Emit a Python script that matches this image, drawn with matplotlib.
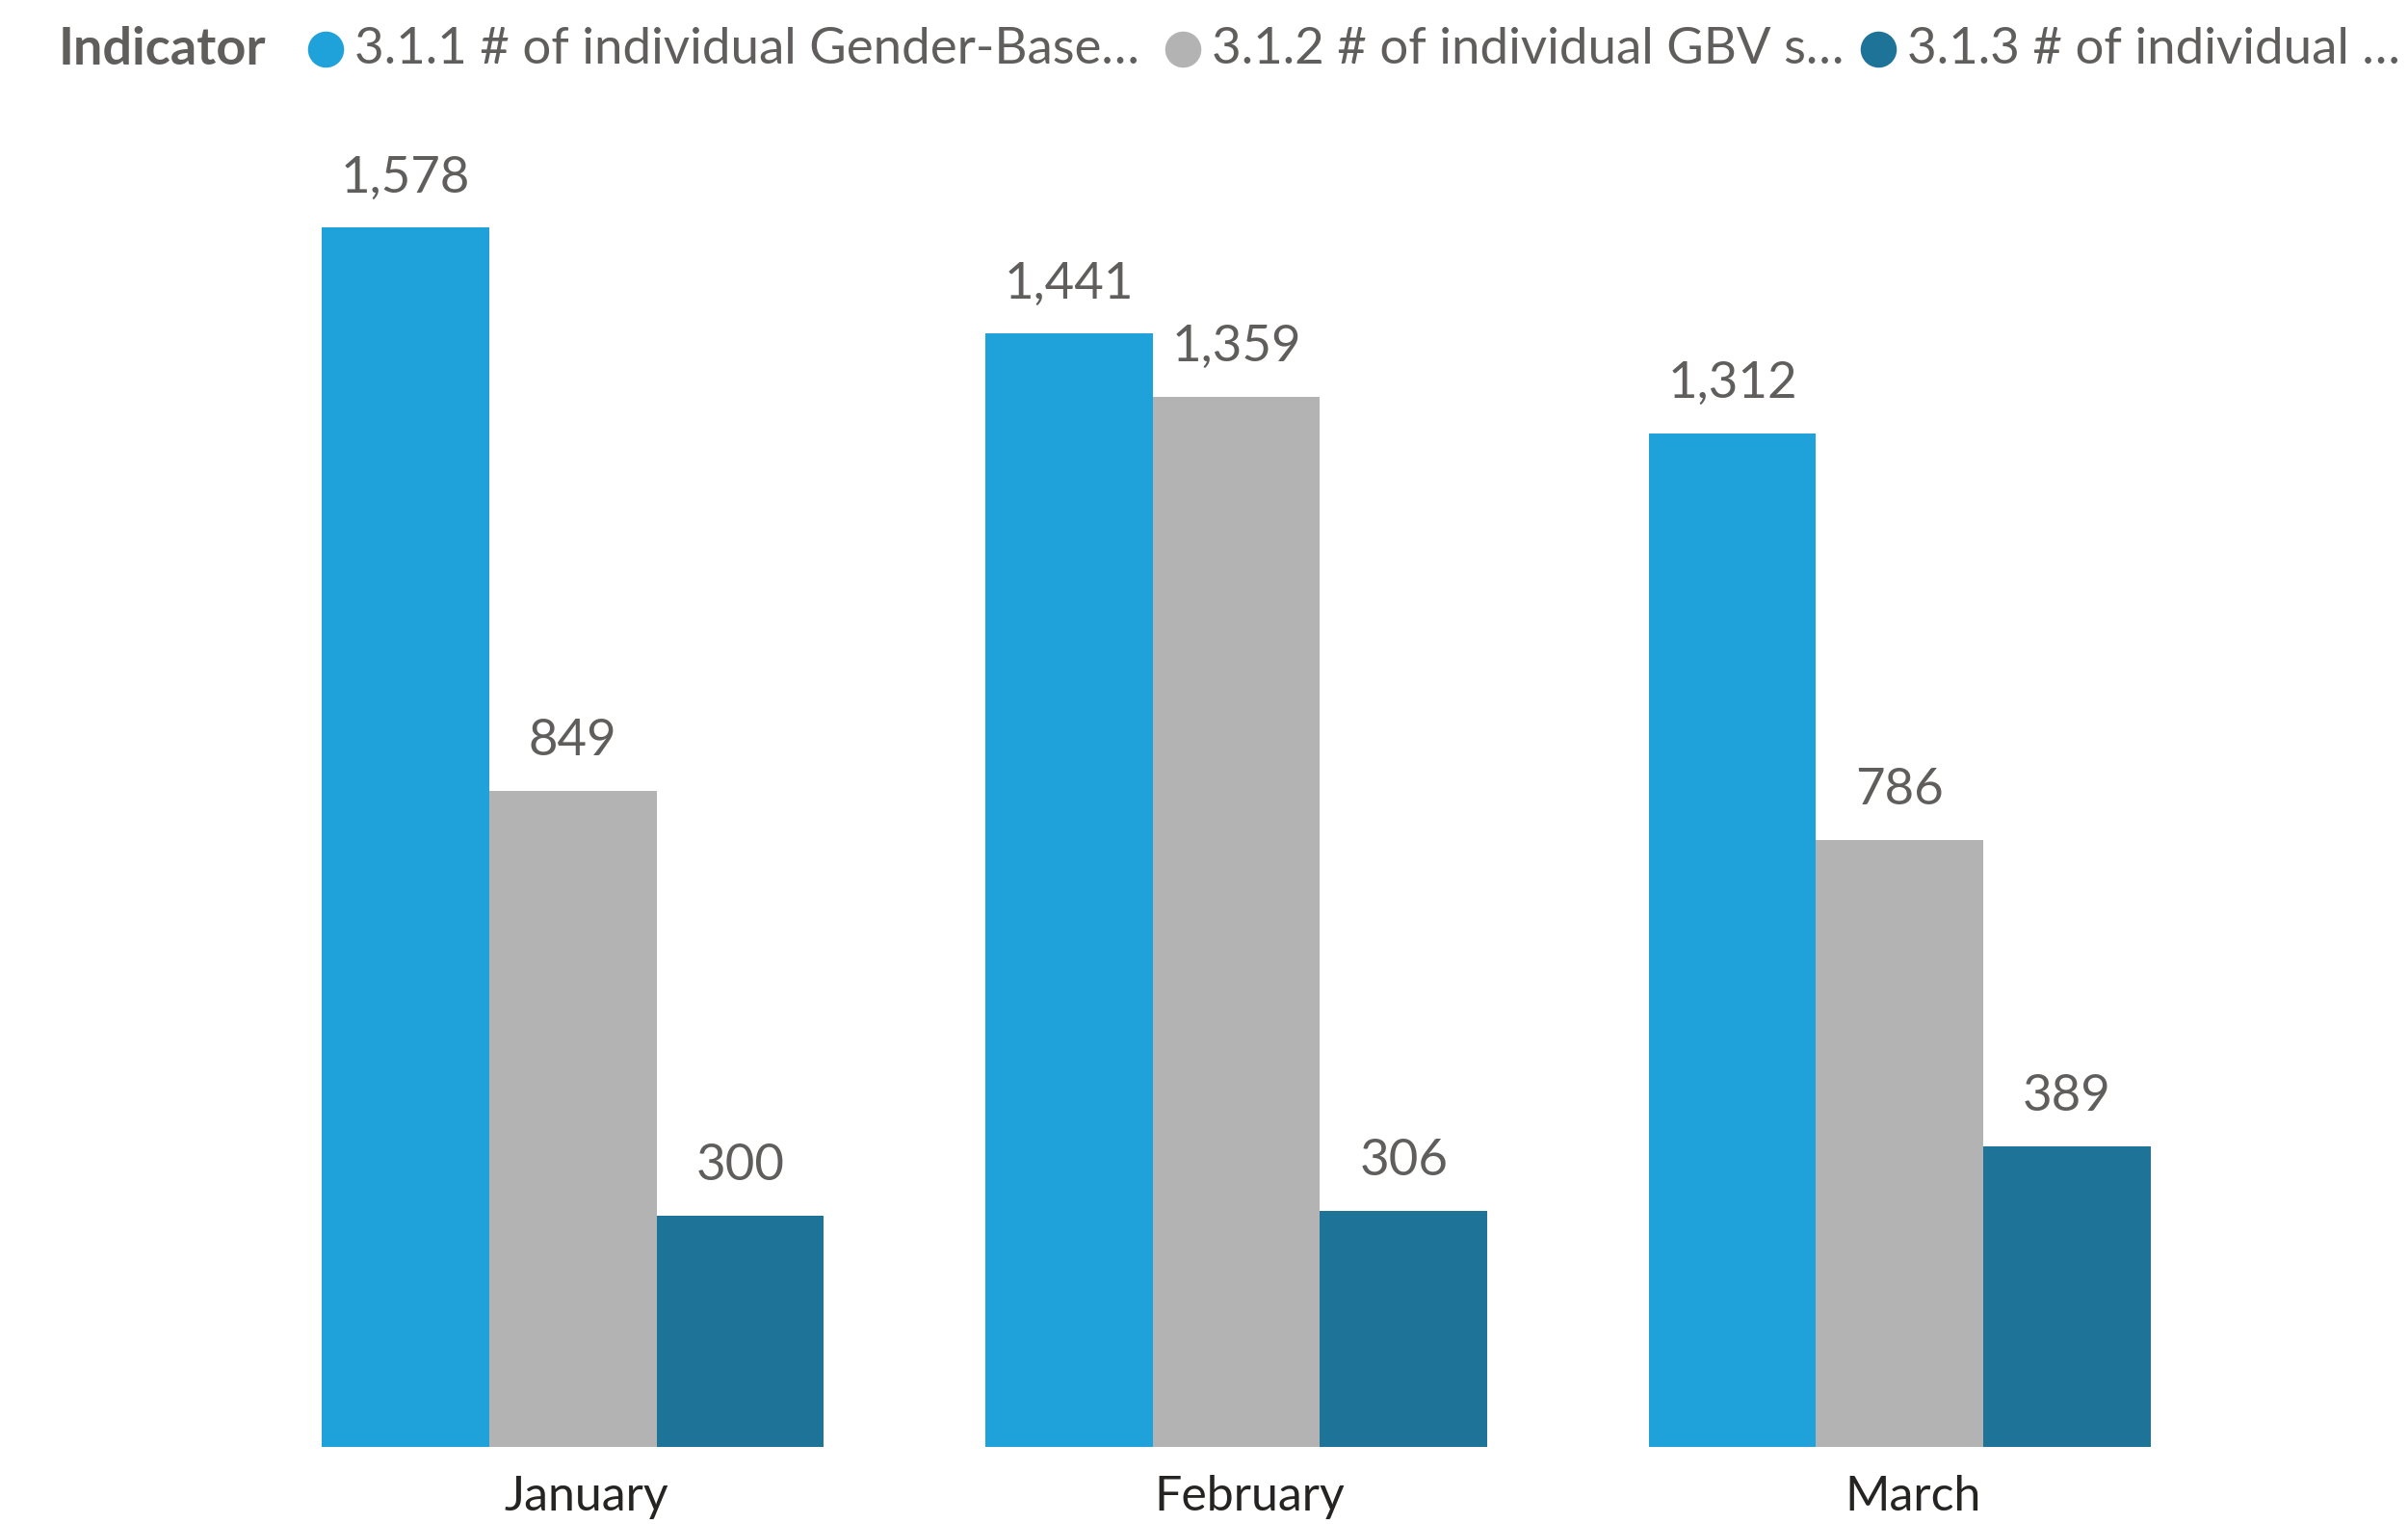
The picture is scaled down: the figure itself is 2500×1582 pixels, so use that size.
import matplotlib
matplotlib.use("Agg")
import matplotlib.pyplot as plt
from matplotlib.lines import Line2D
from matplotlib.transforms import ScaledTranslation
import numpy as np

months = ["January", "February", "March"]
series_names = ["3.1.1 # of individual Gender-Base…",
                "3.1.2 # of individual GBV s…",
                "3.1.3 # of individual …"]
s311 = [1578, 1441, 1312]
s312 = [849, 1359, 786]
s313 = [300, 306, 389]
values = [s311, s312, s313]
colors = ["#1FA1DA", "#B3B3B3", "#1E7399"]

plt.rcParams['font.family'] = ['Lato', 'DejaVu Sans']
TEXT = "#605E5C"

fig = plt.figure(figsize=(25, 15.82), dpi=100)
ax = fig.add_axes([0, 1 - 942/992, 1, (942 - 86.9)/992])

x = np.arange(len(months))
w = 109/432
for i, (vals, c) in enumerate(zip(values, colors)):
    pos = x + (i - 1) * w
    ax.bar(pos, vals, width=w, color=c, linewidth=0)
    for xp, v in zip(pos, vals):
        ax.annotate(f"{v:,}", (xp, v), xytext=(0, 20), textcoords="offset points",
                    ha="center", va="bottom", fontsize=38, color=TEXT)

ax.set_xlim(-373/432, (1568 - 373)/432)
ax.set_ylim(0, 1700)
ax.set_yticks([])
ax.set_xticks(x)
ax.set_xticklabels(months, fontsize=36, color="#252423")
ax.tick_params(axis="x", length=0, pad=21)
shift = ScaledTranslation(0.14, 0, fig.dpi_scale_trans)
for lab in ax.get_xticklabels():
    lab.set_transform(lab.get_transform() + shift)
for s in ax.spines.values():
    s.set_visible(False)

ly = 1 - 32/992
fig.text(38/1568, ly, "Indicator", fontsize=39, fontweight="bold", color=TEXT,
         ha="left", va="center")
for name, c, mx, tx in zip(series_names, colors, [212, 770, 1223], [231, 789, 1242]):
    fig.add_artist(Line2D([mx/1568], [ly], marker="o", markersize=26, color=c,
                          linestyle="none", transform=fig.transFigure))
    fig.text(tx/1568, ly, name, fontsize=38, color=TEXT, ha="left", va="center")

fig.savefig("out.png", dpi=100)
